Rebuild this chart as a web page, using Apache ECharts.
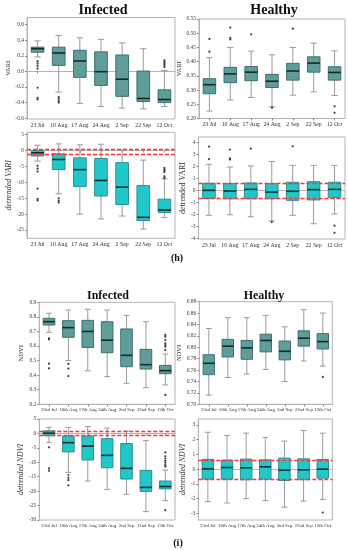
<!DOCTYPE html>
<html><head><meta charset="utf-8">
<script src="https://cdn.jsdelivr.net/npm/echarts@6/dist/echarts.min.js"></script>
<style>html,body{margin:0;padding:0;background:#fff}#c{width:348px;height:550px}</style>
</head><body><div id="c"></div><script>
// ---- categories ----
const variCats = ['23 Jul','10 Aug','17 Aug','24 Aug','2 Sep','22 Sep','12 Oct'];
const ndviCats = ['23rd Jul','10th Aug','17th Aug','24th Aug','2nd Sep','22nd Sep','12th Oct'];

// ---- box stats: [low whisker, Q1, median, Q3, high whisker] ----
const variInfBox = [
  [0.185,0.245,0.29,0.31,0.39],[-0.265,0.077,0.236,0.31,0.46],[-0.41,-0.077,0.133,0.27,0.43],
  [-0.45,-0.18,-0.004,0.25,0.41],[-0.47,-0.32,-0.1,0.21,0.365],[-0.48,-0.386,-0.347,0.004,0.29],
  [-0.45,-0.40,-0.36,-0.236,0.01]];
const variInfOut = [[0,0.13],[0,0.10],[0,0.07],[0,0.035],[0,-0.21],[0,-0.34],[0,-0.36],
  [1,-0.33],[1,-0.355],[1,-0.38],[1,-0.40],[6,0.14],[6,0.12],[6,0.10],[6,0.08],[6,0.055]];

const variHeaBox = [
  [0.226,0.287,0.319,0.34,0.414],[0.265,0.326,0.357,0.38,0.45],[0.274,0.333,0.363,0.383,0.437],
  [0.241,0.309,0.331,0.355,0.424],[0.282,0.335,0.367,0.394,0.45],[0.294,0.363,0.395,0.417,0.465],
  [0.281,0.335,0.362,0.382,0.438]];
const variHeaOut = [[0,0.48],[0,0.435],[1,0.52],[1,0.484],[1,0.478],[2,0.496],[3,0.238],[4,0.516],[6,0.243],[6,0.22]];

const detVariInfBox = [
  [-3.3,-1.7,-0.7,0.0,1.7],[-13.6,-6.0,-2.8,-1.0,2.1],[-20,-11.3,-6.0,-2.3,1.8],
  [-21.5,-14.3,-9.4,-2.5,2.0],[-20.6,-17,-11.5,-3.8,0.2],[-24.7,-22,-21,-11,-3],
  [-21.1,-19.5,-18.7,-15.3,-8.9]];
const detVariInfOut = [[0,-4.8],[0,-5.7],[0,-6.6],[0,-12],[0,-15.2],[0,-15.7],[1,-15],[1,-15.7],[1,-16.3],
  [6,-5.4],[6,-5.9],[6,-6.3],[6,-6.8],[6,-8.1],[6,-8.6]];
const detVariInfRed = [0.5,-1.2];

const detVariHeaBox = [
  [-2.08,-0.67,0,0.58,2.17],[-2.03,-0.7,-0.06,0.56,1.94],[-2.2,-0.7,0.08,0.61,2.03],
  [-2.55,-0.7,-0.14,0.56,2.4],[-2.08,-0.83,-0.08,0.67,2.08],[-2.78,-0.8,0.06,0.72,2.08],
  [-1.97,-0.6,0.08,0.67,2.08]];
const detVariHeaOut = [[0,3.64],[0,2.6],[1,3.4],[1,2.67],[1,2.56],[2,3.47],[3,-2.64],[4,3.67],[6,-2.94],[6,-3.53]];
const detVariHeaRed = [0.6,-0.68];

const ndviInfBox = [
  [0.694,0.744,0.767,0.79,0.825],[0.5,0.66,0.726,0.774,0.847],[0.43,0.59,0.7,0.776,0.852],
  [0.39,0.554,0.64,0.767,0.847],[0.344,0.458,0.536,0.717,0.81],[0.314,0.442,0.472,0.577,0.767],
  [0.333,0.41,0.431,0.467,0.545]];
const ndviInfOut = [[0,0.653],[0,0.646],[0,0.479],[0,0.447],[1,0.477],[1,0.445],[1,0.394],
  [6,0.676],[6,0.664],[6,0.641],[6,0.618],[6,0.607],[6,0.596],[6,0.573],[6,0.264]];

const ndviHeaBox = [
  [0.716,0.752,0.772,0.787,0.833],[0.747,0.783,0.802,0.814,0.852],[0.753,0.779,0.799,0.812,0.852],
  [0.761,0.792,0.812,0.823,0.856],[0.74,0.778,0.793,0.811,0.836],[0.776,0.802,0.816,0.829,0.866],
  [0.767,0.797,0.81,0.824,0.86]];
const ndviHeaOut = [[6,0.748]];

const detNdviInfBox = [
  [-3.1,-0.8,0.1,0.9,2.1],[-13.5,-6.4,-3.2,-0.9,2.1],[-16.5,-9.2,-4.4,-0.9,2.4],
  [-19.4,-11.9,-7.6,-1.8,1.85],[-21.1,-15.8,-12.1,-3.5,0.8],[-27.1,-20.1,-18.7,-12.8,-2.5],
  [-23.3,-19.2,-18.4,-16.5,-12.7]];
const detNdviInfOut = [[0,-4.8],[0,-12.1],[0,-12.9],[1,-14.4],[1,-15.4],[1,-16.2],[1,-18],
  [6,-6.6],[6,-7.9],[6,-8.7],[6,-9.5],[6,-10.2],[6,-11],[6,-11.5],[6,-26.6]];
const detNdviInfRed = [0.9,-0.8];

const detNdviHeaBox = [
  [-2.2,-0.68,0.02,0.66,2.5],[-2.3,-0.68,0.11,0.61,2.28],[-2.0,-0.72,0.09,0.68,2.44],
  [-2.13,-0.68,0.16,0.63,2.15],[-2.58,-0.77,-0.07,0.75,1.9],[-2.17,-0.72,-0.05,0.7,2.62],
  [-2.06,-0.61,0,0.66,2.44]];
const detNdviHeaOut = [[6,-2.94]];
const detNdviHeaRed = [0.62,-0.68];

// ---- tick labels ----
const variInfTicks = [-0.6,-0.4,-0.2,0,0.2,0.4,0.6];
const variHeaTicks = [0.20,0.25,0.30,0.35,0.40,0.45,0.50,0.55];
const detVariInfTicks = [-25,-20,-15,-10,-5,0,5];
const detVariHeaTicks = [-4,-3,-2,-1,0,1,2,3,4];
const ndviInfTicks = [0.2,0.3,0.4,0.5,0.6,0.7,0.8,0.9];
const ndviHeaTicks = [0.70,0.72,0.74,0.76,0.78,0.80,0.82,0.84,0.86,0.88];
const detNdviInfTicks = [-30,-25,-20,-15,-10,-5,0,5];
const detNdviHeaTicks = [-3,-2,-1,0,1,2,3];

// ---- layout / style per panel ----
const TEAL = '#5f9c9a', TEAL_S = '#3e7170', CYAN = '#21c8ca', CYAN_S = '#2f8f90';
const panels = [
  {box:variInfBox,out:variInfOut,cats:variCats,fill:TEAL,stroke:TEAL_S,grid:{left:27,top:17.5,width:148,height:101.5},min:-0.61,max:0.69,ticks:variInfTicks,dec:1,name:'VARI',gap:13,italic:false,ns:6.5,xs:5.8,red:null},
  {box:variHeaBox,out:variHeaOut,cats:variCats,fill:TEAL,stroke:TEAL_S,grid:{left:199,top:19,width:146,height:99.5},min:0.2,max:0.55,ticks:variHeaTicks,dec:2,name:'VARI',gap:15,italic:false,ns:6.5,xs:5.8,red:null},
  {box:detVariInfBox,out:detVariInfOut,cats:variCats,fill:CYAN,stroke:CYAN_S,grid:{left:27,top:132.3,width:148,height:106},min:-27.6,max:5.75,ticks:detVariInfTicks,dec:0,name:'detrended VARI',gap:11,italic:true,ns:8,xs:5.8,red:detVariInfRed},
  {box:detVariHeaBox,out:detVariHeaOut,cats:variCats,fill:CYAN,stroke:CYAN_S,grid:{left:198.5,top:137,width:146.5,height:102},min:-4.05,max:4.44,ticks:detVariHeaTicks,dec:0,name:'detrended VARI',gap:12,italic:false,ns:8,xs:5.8,red:detVariHeaRed},
  {box:ndviInfBox,out:ndviInfOut,cats:ndviCats,fill:TEAL,stroke:TEAL_S,grid:{left:39.3,top:302.3,width:135.7,height:102},min:0.2,max:0.9,ticks:ndviInfTicks,dec:1,name:'NDVI',gap:15,italic:false,ns:6.5,xs:4.8,red:null},
  {box:ndviHeaBox,out:ndviHeaOut,cats:ndviCats,fill:TEAL,stroke:TEAL_S,grid:{left:199.3,top:301.7,width:133,height:102.6},min:0.70,max:0.88,ticks:ndviHeaTicks,dec:2,name:'NDVI',gap:14,italic:false,ns:6.5,xs:4.8,red:null},
  {box:detNdviInfBox,out:detNdviInfOut,cats:ndviCats,fill:CYAN,stroke:CYAN_S,grid:{left:39.3,top:419,width:135.7,height:101},min:-30,max:5,ticks:detNdviInfTicks,dec:0,name:'detrended NDVI',gap:11,italic:true,ns:7.8,xs:4.8,red:detNdviInfRed},
  {box:detNdviHeaBox,out:detNdviHeaOut,cats:ndviCats,fill:CYAN,stroke:CYAN_S,grid:{left:198.3,top:419,width:134,height:101},min:-3.45,max:3.4,ticks:detNdviHeaTicks,dec:0,name:'detrended NDVI',gap:11,italic:true,ns:7.8,xs:4.8,red:detNdviHeaRed}
];

const SERIF = '"Liberation Serif","DejaVu Serif",serif';

function makeRender(fill, stroke) {
  return function (params, api) {
    const i = api.value(0);
    const pLow = api.coord([i, api.value(1)]);
    const pQ1 = api.coord([i, api.value(2)]);
    const pMed = api.coord([i, api.value(3)]);
    const pQ3 = api.coord([i, api.value(4)]);
    const pHigh = api.coord([i, api.value(5)]);
    const band = api.size([1, 0])[0];
    const w = band * 0.6, cw = w * 0.5, cx = pMed[0];
    const wh = {stroke:'#9b9b9b', lineWidth:1};
    return {type:'group', children:[
      {type:'line', shape:{x1:cx,y1:pHigh[1],x2:cx,y2:pQ3[1]}, style:wh},
      {type:'line', shape:{x1:cx,y1:pQ1[1],x2:cx,y2:pLow[1]}, style:wh},
      {type:'line', shape:{x1:cx-cw/2,y1:pHigh[1],x2:cx+cw/2,y2:pHigh[1]}, style:wh},
      {type:'line', shape:{x1:cx-cw/2,y1:pLow[1],x2:cx+cw/2,y2:pLow[1]}, style:wh},
      {type:'rect', shape:{x:cx-w/2,y:pQ3[1],width:w,height:pQ1[1]-pQ3[1]}, style:{fill:fill, stroke:stroke, lineWidth:1}},
      {type:'line', shape:{x1:cx-w/2,y1:pMed[1],x2:cx+w/2,y2:pMed[1]}, style:{stroke:'#142a2a', lineWidth:1.6}}
    ]};
  };
}

const grids = [], xAxes = [], yAxes = [], series = [];
panels.forEach(function (p, k) {
  grids.push(Object.assign({show:true, borderColor:'#b5b5b5', borderWidth:1, containLabel:false}, p.grid));
  xAxes.push({type:'category', gridIndex:k, data:p.cats, boundaryGap:true,
    axisLine:{show:true, lineStyle:{color:'#b5b5b5'}},
    axisTick:{show:true, alignWithLabel:true, length:2, lineStyle:{color:'#888'}},
    axisLabel:{interval:0, fontSize:p.xs, fontFamily:SERIF, color:'#333', margin:3},
    splitLine:{show:false}});
  yAxes.push({type:'value', gridIndex:k, min:p.min, max:p.max,
    name:p.name, nameLocation:'middle', nameGap:p.gap,
    nameTextStyle:{fontFamily:SERIF, fontSize:p.ns, color:'#333', fontStyle:p.italic?'italic':'normal'},
    axisLine:{show:true, lineStyle:{color:'#b5b5b5'}},
    axisTick:{show:true, length:2, customValues:p.ticks, lineStyle:{color:'#888'}},
    axisLabel:{fontSize:5.5, fontFamily:SERIF, color:'#444', margin:3, customValues:p.ticks,
      formatter:(function(d){return function(v){return Number(v).toFixed(d);};})(p.dec)},
    splitLine:{show:false}});
  series.push({type:'custom', xAxisIndex:k, yAxisIndex:k,
    renderItem:makeRender(p.fill, p.stroke),
    encode:{x:0, y:[1,2,3,4,5]},
    data:p.box.map(function(b, i){return [i].concat(b);}), z:2});
  const sc = {type:'scatter', xAxisIndex:k, yAxisIndex:k, data:p.out, symbolSize:2.2,
    itemStyle:{color:'#111'}, z:3, silent:true};
  if (p.red) {
    sc.markLine = {silent:true, symbol:['none','none'], label:{show:false}, z:5,
      lineStyle:{color:'#ff3535', type:[4,2], width:1.3},
      data:p.red.map(function(v){return {yAxis:v};})};
  }
  series.push(sc);
});

const graphic = [
  {type:'text', x:103, y:10, style:{text:'Infected', font:'bold 14px '+SERIF, fill:'#111', textAlign:'center', textVerticalAlign:'middle'}},
  {type:'text', x:274, y:10, style:{text:'Healthy', font:'bold 14px '+SERIF, fill:'#111', textAlign:'center', textVerticalAlign:'middle'}},
  {type:'text', x:108, y:296, style:{text:'Infected', font:'bold 12px '+SERIF, fill:'#111', textAlign:'center', textVerticalAlign:'middle'}},
  {type:'text', x:264, y:296, style:{text:'Healthy', font:'bold 12px '+SERIF, fill:'#111', textAlign:'center', textVerticalAlign:'middle'}},
  {type:'text', x:177, y:258, style:{text:'(h)', font:'bold 10px '+SERIF, fill:'#111', textAlign:'center', textVerticalAlign:'middle'}},
  {type:'text', x:178, y:543, style:{text:'(i)', font:'bold 10px '+SERIF, fill:'#111', textAlign:'center', textVerticalAlign:'middle'}}
];

const chart = echarts.init(document.getElementById('c'), null, {renderer:'canvas'});
chart.setOption({animation:false, backgroundColor:'#fff', grid:grids, xAxis:xAxes, yAxis:yAxes, series:series, graphic:graphic});
</script></body></html>
